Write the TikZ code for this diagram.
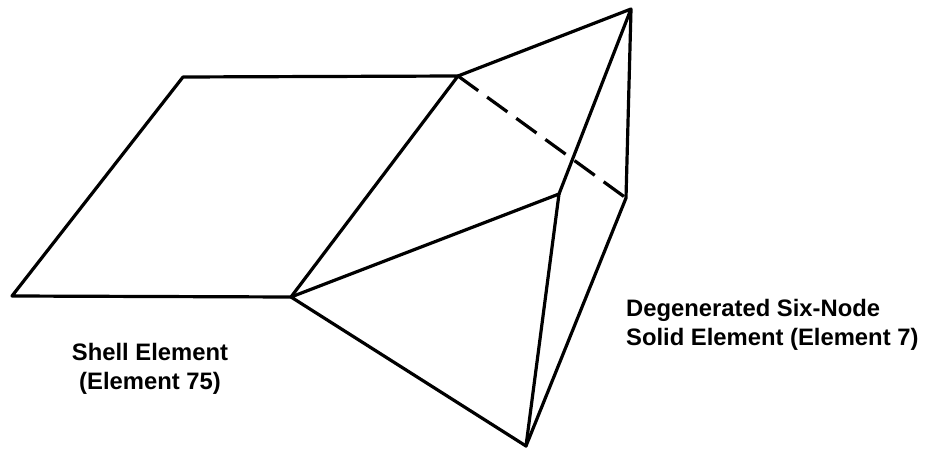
\documentclass[tikz,border=0pt]{standalone}
\usepackage{fontspec}
\setmainfont{Liberation Sans}
\tikzset{edge/.style={line width=3.2pt,line cap=round,line join=round,black},
lab/.style={font=\fontsize{23.8pt}{29pt}\selectfont\bfseries,inner sep=0pt,text=black}}
\begin{document}
\begin{tikzpicture}[x=1pt,y=-1pt]
\useasboundingbox (0,0) rectangle (926,449);
\coordinate (a) at (183,77);
\coordinate (b) at (458,76);
\coordinate (c) at (12,296);
\coordinate (d) at (291,297);
\coordinate (e) at (631,9);
\coordinate (f) at (626,198);
\coordinate (g) at (559,194);
\coordinate (h) at (526,446);
\draw[edge] (c) -- (a) -- (b) -- (d) -- (c);
\draw[edge] (b) -- (e) -- (f) -- (h) -- (d) -- (g) -- (e);
\draw[edge] (g) -- (h);
\draw[edge,line cap=butt,dash pattern=on 25pt off 11pt] (b) -- (f);
\node[lab,align=center,anchor=base] (s) at (150,389) {Shell Element\\(Element 75)};
\node[lab,align=left,anchor=base west] (t) at (626,345) {Degenerated Six-Node\\Solid Element (Element 7)};
\end{tikzpicture}
\end{document}
